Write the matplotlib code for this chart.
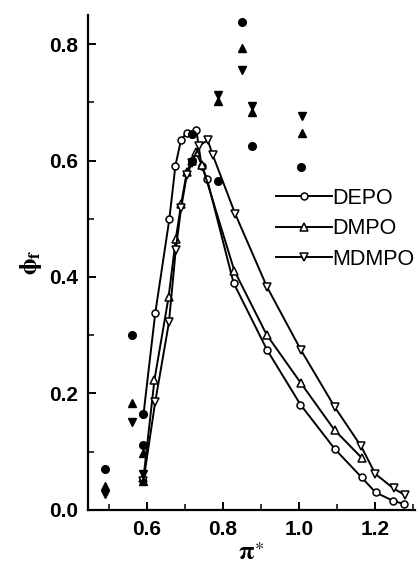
import matplotlib
matplotlib.use("Agg")
import matplotlib.pyplot as plt
from matplotlib.ticker import MultipleLocator

plt.rcParams['font.family'] = ['Liberation Sans', 'DejaVu Sans']
plt.rcParams['mathtext.fontset'] = 'stix'

# Fluorescence quantum yield vs solvent polarity pi*
depo_x = [0.591, 0.622, 0.659, 0.675, 0.690, 0.706, 0.718, 0.730, 0.744, 0.758,
          0.828, 0.916, 1.004, 1.094, 1.165, 1.202, 1.247, 1.277]
depo_y = [0.164, 0.338, 0.499, 0.591, 0.636, 0.648, 0.645, 0.653, 0.590, 0.569,
          0.390, 0.275, 0.181, 0.105, 0.056, 0.030, 0.016, 0.010]

dmpo_x = [0.591, 0.620, 0.657, 0.676, 0.690, 0.705, 0.718, 0.729, 0.745,
          0.830, 0.915, 1.005, 1.094, 1.166]
dmpo_y = [0.055, 0.224, 0.365, 0.465, 0.525, 0.580, 0.600, 0.614, 0.592,
          0.411, 0.301, 0.218, 0.137, 0.089]

mdmpo_x = [0.591, 0.622, 0.658, 0.676, 0.690, 0.705, 0.718, 0.737, 0.760, 0.773,
           0.832, 0.916, 1.005, 1.094, 1.164, 1.201, 1.249, 1.278]
mdmpo_y = [0.050, 0.186, 0.322, 0.447, 0.518, 0.575, 0.595, 0.625, 0.635, 0.610,
           0.509, 0.383, 0.275, 0.177, 0.109, 0.062, 0.037, 0.026]

# solid symbols
circ_x = [0.490, 0.562, 0.591, 0.591, 0.718, 0.718, 0.788, 0.849, 0.876, 1.005]
circ_y = [0.070, 0.301, 0.164, 0.111, 0.645, 0.600, 0.564, 0.838, 0.625, 0.589]
up_x = [0.490, 0.561, 0.591, 0.591, 0.788, 0.849, 0.877, 1.007]
up_y = [0.042, 0.183, 0.098, 0.050, 0.702, 0.793, 0.683, 0.648]
down_x = [0.490, 0.561, 0.591, 0.788, 0.849, 0.877, 1.007]
down_y = [0.027, 0.151, 0.062, 0.713, 0.755, 0.694, 0.676]

fig = plt.figure(figsize=(4.19, 5.73), dpi=100)
ax = fig.add_axes([0.21, 0.11, 0.78, 0.864])

ms_open = 5
ax.plot(depo_x, depo_y, '-o', color='black', lw=1.4, ms=ms_open, mfc='white',
        mew=1.1, label='DEPO')
ax.plot(dmpo_x, dmpo_y, '-^', color='black', lw=1.4, ms=ms_open + 0.5, mfc='white',
        mew=1.1, label='DMPO')
ax.plot(mdmpo_x, mdmpo_y, '-v', color='black', lw=1.4, ms=ms_open + 0.5, mfc='white',
        mew=1.1, label='MDMPO')

ax.plot(circ_x, circ_y, 'o', color='black', ms=5.5, ls='none')
ax.plot(up_x, up_y, '^', color='black', ms=6, ls='none')
ax.plot(down_x, down_y, 'v', color='black', ms=6, ls='none')

ax.set_xlim(0.445, 1.305)
ax.set_ylim(0.0, 0.85)
ax.xaxis.set_minor_locator(MultipleLocator(0.1))
ax.yaxis.set_minor_locator(MultipleLocator(0.1))
ax.set_xticks([0.6, 0.8, 1.0, 1.2])
ax.set_xticklabels(['0.6', '0.8', '1.0', '1.2'])
ax.set_yticks([0.0, 0.2, 0.4, 0.6, 0.8])
ax.set_yticklabels(['0.0', '0.2', '0.4', '0.6', '0.8'])

for side in ['top', 'right']:
    ax.spines[side].set_visible(False)
for side in ['left', 'bottom']:
    ax.spines[side].set_linewidth(1.6)

ax.tick_params(which='major', direction='in', length=6, width=1.4, labelsize=15, pad=7)
ax.tick_params(which='minor', direction='in', length=4, width=1.1)
for lab in ax.get_xticklabels() + ax.get_yticklabels():
    lab.set_fontweight('bold')

ax.set_xlabel(r'$\mathbf{\pi}^{\ast}$', fontsize=18, labelpad=2)
ax.set_ylabel(r'$\mathbf{\phi_f}$', fontsize=18, labelpad=4)

ax.legend(loc='center left', bbox_to_anchor=(0.575, 0.568), frameon=False,
          handlelength=2.6, handletextpad=0.0, labelspacing=0.45,
          borderpad=0, borderaxespad=0, fontsize=15.5)

fig.savefig('out.png', dpi=100)
